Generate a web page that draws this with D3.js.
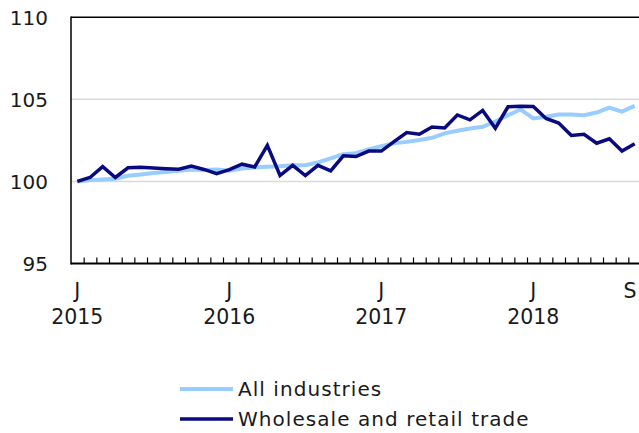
<!DOCTYPE html>
<html><head><meta charset="utf-8">
<script src="https://cdn.jsdelivr.net/npm/d3@7"></script>
<style>body{margin:0;background:#fff}svg text{font-family:"DejaVu Sans",Verdana,sans-serif;fill:#1a1a1a}</style>
</head><body><svg id="c" width="639" height="433"></svg>
<script>
const months = d3.range(45); // Jan 2015 .. Sep 2018
const xLabels = [{i:0,m:"J",y:"2015"},{i:12,m:"J",y:"2016"},{i:24,m:"J",y:"2017"},{i:36,m:"J",y:"2018"},{i:44,m:"S",y:""}];
const yTicks = [95,100,105,110];
const allIndustries = [100.0,100.08,100.12,100.17,100.35,100.42,100.52,100.58,100.65,100.73,100.69,100.73,
 100.65,100.79,100.85,100.89,100.93,100.99,100.99,101.16,101.4,101.66,101.72,101.95,
 102.15,102.32,102.41,102.52,102.66,102.93,103.09,103.23,103.33,103.65,104.04,104.38,
 103.84,103.94,104.08,104.08,104.04,104.2,104.5,104.25,104.6];
const wholesale = [100.0,100.24,100.9,100.24,100.83,100.86,100.82,100.78,100.74,100.93,100.73,100.48,
 100.72,101.05,100.88,102.2,100.36,100.98,100.36,100.98,100.64,101.56,101.52,101.85,
 101.85,102.42,102.98,102.88,103.32,103.26,104.05,103.75,104.33,103.24,104.55,104.58,
 104.56,103.84,103.56,102.8,102.87,102.33,102.6,101.85,102.3];
const series = [
  {name:"All industries", values: allIndustries, color:"#99ccff", width:4},
  {name:"Wholesale and retail trade", values: wholesale, color:"#0a0a80", width:3.5}
];

const svg = d3.select("#c");
const L = 71, R = 641, T = 17.3, B = 263.5;
const x = d3.scaleBand().domain(months).range([L, R]).padding(0);
const xb = d3.scaleLinear().domain([0,45]).range([L, R]);
const y = d3.scaleLinear().domain([95,110]).range([B, T]);

// gridlines
svg.append("g").selectAll("line").data([100,105]).join("line")
  .attr("x1", L).attr("x2", 639).attr("y1", d=>y(d)).attr("y2", d=>y(d))
  .attr("stroke", "#d9d9d9").attr("stroke-width", 1.5);
// top border
svg.append("line").attr("x1", L).attr("x2", 639).attr("y1", y(110)).attr("y2", y(110))
  .attr("stroke", "#000").attr("stroke-width", 1.5);

// y labels
svg.append("g").selectAll("text").data(yTicks).join("text")
  .attr("x", 48).attr("y", d=>y(d)).attr("dy","0.36em").attr("text-anchor","end")
  .attr("font-size", 20).text(d=>d);

// lines
const line = v => d3.line().x((d,i)=>x(i)+x.bandwidth()/2).y(d=>y(d))(v);
series.forEach(s=>{
  svg.append("path").attr("d", line(s.values)).attr("fill","none")
    .attr("stroke", s.color).attr("stroke-width", s.width).attr("stroke-linejoin","miter");
});

// x axis with interior ticks
const xa = svg.append("g").attr("transform", `translate(0,${B})`)
  .call(d3.axisBottom(xb).tickValues(d3.range(1,45)).tickSizeInner(-6).tickSizeOuter(0).tickFormat(""));
xa.select(".domain").attr("stroke","#000").attr("stroke-width",2).attr("d", `M${L},0H639`);
xa.selectAll(".tick line").attr("stroke","#000").attr("stroke-width",1.2);
// y axis line
svg.append("line").attr("x1", L).attr("x2", L).attr("y1", T-0.7).attr("y2", B+1)
  .attr("stroke","#000").attr("stroke-width",1.5);

// x labels
const cx = d => Math.min(x(d.i)+x.bandwidth()/2, 630);
const xl = svg.append("g").selectAll("g").data(xLabels).join("g");
xl.append("text").attr("x", cx).attr("y", 298).attr("text-anchor","middle")
  .attr("font-size",20.5).text(d=>d.m);
xl.append("text").attr("x", cx).attr("y", 324).attr("text-anchor","middle")
  .attr("font-size",20.5).text(d=>d.y);

// legend
const lg = svg.append("g").selectAll("g").data(series).join("g")
  .attr("transform",(d,i)=>`translate(0,${389+i*30})`);
lg.append("line").attr("x1",180).attr("x2",233).attr("y1",0).attr("y2",0)
  .attr("stroke",d=>d.color).attr("stroke-width",d=>d.width);
lg.append("text").attr("x",238).attr("y",0).attr("dy","0.36em").attr("font-size",20)
  .attr("letter-spacing","1.05px").text(d=>d.name);
</script></body></html>
